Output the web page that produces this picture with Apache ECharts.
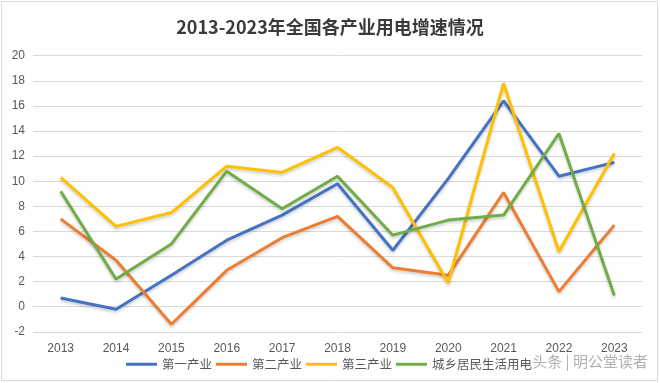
<!DOCTYPE html>
<html>
<head>
<meta charset="utf-8">
<script src="https://cdn.jsdelivr.net/npm/echarts@6/dist/echarts.min.js"></script>
<style>html,body{margin:0;padding:0;background:#fff}#c{width:660px;height:383px}</style>
</head>
<body>
<div id="c"></div>
<script>
const titleText = '2013-2023年全国各产业用电增速情况';
const years = ['2013','2014','2015','2016','2017','2018','2019','2020','2021','2022','2023'];
const seriesNames = ['第一产业','第二产业','第三产业','城乡居民生活用电'];
const primary   = [0.7, -0.2, 2.5, 5.3, 7.3, 9.8, 4.5, 10.2, 16.4, 10.4, 11.5];
const secondary = [7.0, 3.7, -1.4, 2.9, 5.5, 7.2, 3.1, 2.5, 9.1, 1.2, 6.5];
const tertiary  = [10.3, 6.4, 7.5, 11.2, 10.7, 12.7, 9.5, 1.9, 17.8, 4.4, 12.2];
const resident  = [9.2, 2.2, 5.0, 10.8, 7.8, 10.4, 5.7, 6.9, 7.3, 13.8, 0.9];
const colors = ['#4472C4','#ED7D31','#FFC000','#70AD47'];
const allData = [primary, secondary, tertiary, resident];

const chart = echarts.init(document.getElementById('c'), null, {renderer:'canvas'});
chart.setOption({
  animation: false,
  backgroundColor: '#fff',
  title: {
    text: titleText, left: 'center', top: 13,
    textStyle: {fontFamily: 'Noto Sans CJK SC', fontSize: 18, fontWeight: 'bold', color: '#3a3a3a'}
  },
  legend: {
    left: 121, top: 353,
    icon: 'rect', itemWidth: 31, itemHeight: 3, itemGap: 4,
    textStyle: {fontFamily: 'Noto Sans CJK SC', fontSize: 12.5, color: '#595959', padding: [0,0,0,0]},
    data: seriesNames
  },
  grid: {left: 33, right: 18, top: 55.7, bottom: 51.2, containLabel: false},
  xAxis: {
    type: 'category', data: years, boundaryGap: true,
    axisLine: {onZero: true, lineStyle: {color: '#d9d9d9', width: 1}},
    axisTick: {show: false},
    axisLabel: {color: '#595959', fontSize: 12, fontFamily: 'Liberation Sans', margin: 11}
  },
  yAxis: {
    type: 'value', min: -2, max: 20, interval: 2,
    axisLine: {show: false}, axisTick: {show: false},
    axisLabel: {color: '#595959', fontSize: 12, fontFamily: 'Liberation Sans', margin: 8},
    splitLine: {lineStyle: {color: '#d9d9d9', width: 1}}
  },
  graphic: [
    {type: 'rect', shape: {x: 1.5, y: 1.5, width: 656, height: 379}, style: {fill: null, stroke: '#d9d9d9', lineWidth: 1}, silent: true, z: -1},
    {type: 'text', right: 12, top: 354, z: 100, style: {text: '头条 | 明公堂读者', fontSize: 15, fontFamily: 'Noto Sans CJK SC', fill: 'rgba(150,150,150,0.75)'}}
  ],
  series: seriesNames.map((n, i) => ({
    name: n, type: 'line', data: allData[i], symbol: 'none', smooth: false,
    color: colors[i],
    lineStyle: {width: 3, color: colors[i], shadowColor: 'rgba(0,0,0,0.2)', shadowBlur: 3, shadowOffsetY: 2}
  }))
});
</script>
</body>
</html>
